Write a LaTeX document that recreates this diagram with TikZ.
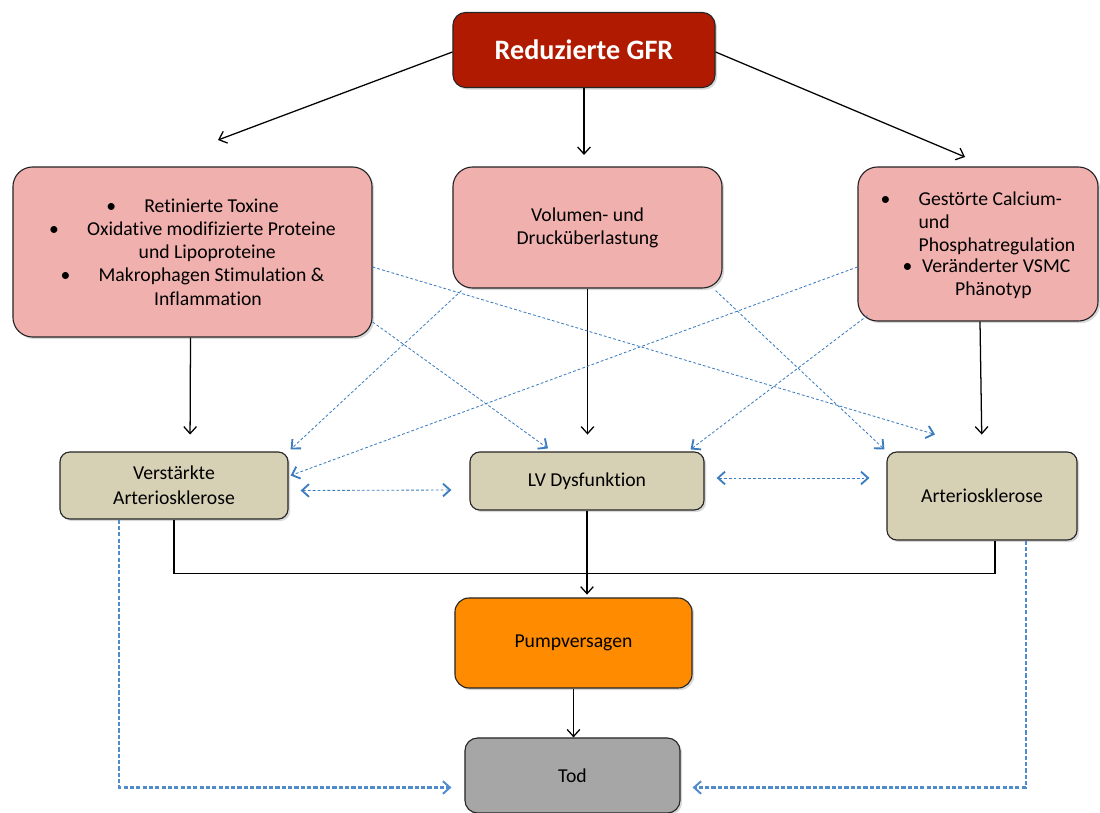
\documentclass[tikz,border=0pt]{standalone}
\usepackage{fontspec}
\setmainfont{Carlito}[Ligatures={NoCommon}]
\usetikzlibrary{arrows.meta,shadows,calc}

\definecolor{gfrred}{RGB}{176,26,0}
\definecolor{pinkbox}{RGB}{240,176,174}
\definecolor{tanbox}{RGB}{214,208,180}
\definecolor{pumporange}{RGB}{255,140,0}
\definecolor{todgray}{RGB}{166,166,166}
\definecolor{dashblue}{RGB}{60,125,190}
\definecolor{todblue}{RGB}{80,140,205}

\tikzset{
  box/.style={draw=black!85, line width=0.8pt, inner sep=0pt, align=center,
    font=\fontsize{14}{16.5}\selectfont,
    drop shadow={shadow xshift=1.5pt, shadow yshift=-1.5pt, opacity=0.3}},
  causebox/.style={box, fill=pinkbox, rounded corners=14pt},
  effectbox/.style={box, fill=tanbox, rounded corners=7pt, font=\fontsize{14}{17.5}\selectfont},
  arr/.style={-{Straight Barb[length=5pt,width=9pt]}, line width=0.9pt},
  gap/.style={shorten >=12pt},
  dsh/.style={dashblue, line width=0.6pt, dash pattern=on 2pt off 1.5pt, -{Straight Barb[length=5pt,width=9pt,line width=1.3pt]}},
  dshboth/.style={dsh, {Straight Barb[length=5pt,width=9pt,line width=1.3pt]}-{Straight Barb[length=5pt,width=9pt,line width=1.3pt]}},
  todline/.style={todblue, line width=1.5pt, dash pattern=on 3pt off 1.5pt,
    -{Straight Barb[length=5pt,width=9pt,line width=1.4pt]}},
}

\begin{document}
\begin{tikzpicture}[x=0.025cm, y=-0.025cm]
    \useasboundingbox (0,0) rectangle (1100,813);

    % Ursache
    \node[box, fill=gfrred, text=white, rounded corners=9pt,
          minimum width=6.55cm, minimum height=1.875cm,
          font=\fontsize{20}{24}\selectfont\bfseries] (gfr) at (584,50) {Reduzierte GFR};

    % Mechanismen
    \node[causebox, minimum width=8.975cm, minimum height=4.25cm] (toxine) at (192.5,252)
        {\textbullet\hspace{20pt}Retinierte Toxine\\
         \textbullet\hspace{20pt}Oxidative modifizierte Proteine\\
         \hspace{21pt}und Lipoproteine\\
         \textbullet\hspace{20pt}Makrophagen Stimulation \&\\
         \hspace{22pt}Inflammation};
    \node[causebox, minimum width=6.725cm, minimum height=3.025cm] (volumen) at (587.5,227.5)
        {Volumen- und\\ Drucküberlastung};
    \node[causebox, minimum width=6cm, minimum height=3.85cm] (calcium) at (978,244)
        {\begin{tabular}{@{}c@{\hspace{20pt}}l@{}}
           \textbullet & Gestörte Calcium-\\
                       & und\\
                       & Phosphatregulation
         \end{tabular}\\[-1pt]
         \hspace{12pt}\textbullet\hspace{7pt}Veränderter VSMC\\
         \hspace{22pt}Phänotyp};

    % Folgen
    \node[effectbox, minimum width=5.7cm, minimum height=1.675cm] (verst) at (174,485.5)
        {Verstärkte\\ Arteriosklerose};
    \node[effectbox, minimum width=5.85cm, minimum height=1.45cm] (lv) at (587,481)
        {LV Dysfunktion};
    \node[effectbox, minimum width=4.75cm, minimum height=2.2cm] (arter) at (982,496)
        {Arteriosklerose};

    % Endpunkte
    \node[box, fill=pumporange, rounded corners=10pt,
          minimum width=5.925cm, minimum height=2.25cm] (pump) at (573.5,643) {Pumpversagen};
    \node[box, fill=todgray, rounded corners=9pt,
          minimum width=5.375cm, minimum height=1.875cm] (tod) at (572.5,775.5) {Tod};

    % Pfeile von der GFR
    \coordinate (gl) at (218,140);
    \coordinate (gm) at (584,155);
    \coordinate (gr) at (965,157);
    \draw[arr] ($(gfr.west)+(0,2)$) -- (gl);
    \draw[arr] (gfr.south) -- (gm);
    \draw[arr] ($(gfr.east)+(0,2)$) -- (gr);

    % direkte Folgen
    \draw[arr, gap] ($(toxine.south)+(-2,0)$) -- ($(verst.north)+(16,0)$);
    \draw[arr, gap] (volumen.south) -- (volumen.south |- lv.north);
    \draw[arr, gap] ($(calcium.south)+(2,0)$) -- ($(arter.north)+(0,0)$);

    % Sammelleitung zum Pumpversagen
    \draw[line width=0.9pt] (verst.south) -- ++(0,54) -| ($(arter.south)+(13,0)$);
    \draw[arr, shorten >=2pt] (lv.south) -- (lv.south |- pump.north);
    \draw[arr] (pump.south) -- (pump.south |- tod.north);

    % Querverbindungen (gestrichelt)
    \draw[dsh] ($(toxine.east)+(0,15)$) -- ($(arter.north)+(-47,-17)$);
    \draw[dsh] ($(toxine.east)+(0,70)$) -- ($(lv.north)+(-39,-3)$);
    \draw[dsh] ($(volumen.south west)+(9,2)$) -- ($(verst.north east)+(2,-2)$);
    \draw[dsh] ($(volumen.south east)+(-7,2)$) -- ($(arter.north west)+(-2,-2)$);
    \draw[dsh] ($(calcium.west)+(0,23)$) -- ($(verst.east)+(2,-10)$);
    \draw[dsh] ($(calcium.south west)+(10,-6)$) -- ($(lv.north east)+(-14,-2)$);
    \draw[dshboth] ($(verst.east)+(12,5)$) -- ($(lv.west)+(-18,9)$);
    \draw[dshboth] ($(lv.east)+(12,-3)$) -- ($(arter.west)+(-17,-18)$);

    % zum Tod
    \draw[todline] ($(verst.south west)+(60,0)$) |- ($(tod.west)+(-13,12)$);
    \draw[todline] ($(arter.south east)+(-52,0)$) |- ($(tod.east)+(12,12)$);
\end{tikzpicture}
\end{document}
